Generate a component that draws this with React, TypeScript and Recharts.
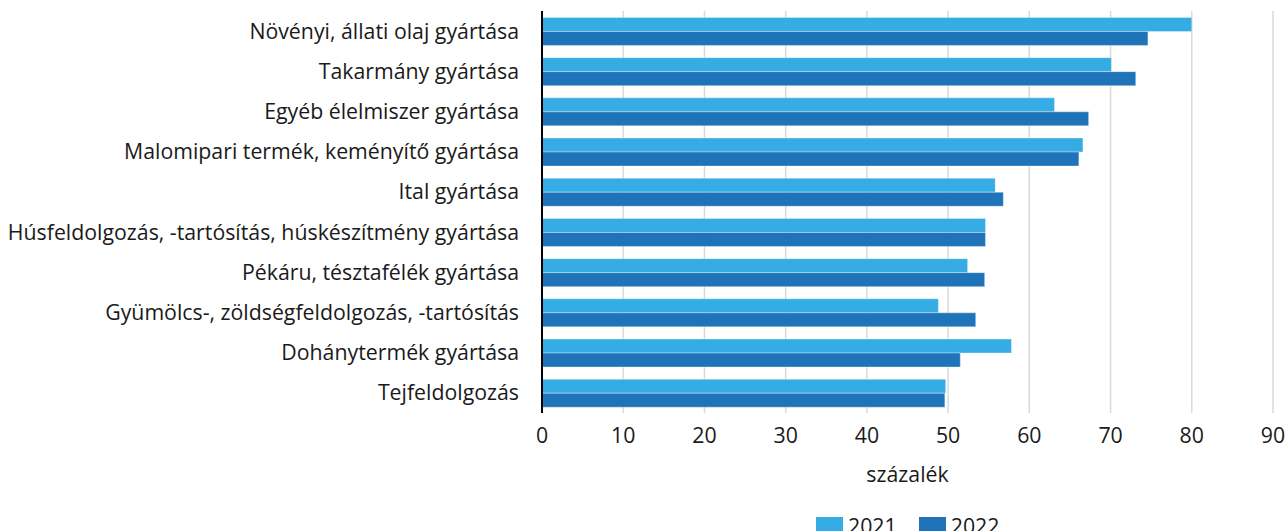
import React from 'react'
import { BarChart, Bar, XAxis, YAxis, CartesianGrid, Legend } from 'recharts'

const categories: string[] = [
  'Növényi, állati olaj gyártása',
  'Takarmány gyártása',
  'Egyéb élelmiszer gyártása',
  'Malomipari termék, keményítő gyártása',
  'Ital gyártása',
  'Húsfeldolgozás, -tartósítás, húskészítmény gyártása',
  'Pékáru, tésztafélék gyártása',
  'Gyümölcs-, zöldségfeldolgozás, -tartósítás',
  'Dohánytermék gyártása',
  'Tejfeldolgozás',
]
const values2021: number[] = [80.0, 70.1, 63.1, 66.6, 55.8, 54.6, 52.4, 48.8, 57.8, 49.7]
const values2022: number[] = [74.6, 73.1, 67.3, 66.1, 56.8, 54.6, 54.5, 53.4, 51.5, 49.6]
const xTicks: number[] = [0, 10, 20, 30, 40, 50, 60, 70, 80, 90]
const seriesNames: string[] = ['2021', '2022']

const color2021 = '#35ace3'
const color2022 = '#1f73b9'
const fontFamily = '"Open Sans", sans-serif'
const fontSize = 21.3

// the chart fills the whole window, so the 8px page margin is drawn as padding
document.body.style.margin = '0'

const data = categories.map((name, i) => ({
  name,
  y2021: values2021[i],
  y2022: values2022[i],
}))

const renderLegend = () => {
  const items = [
    { label: seriesNames[0], color: color2021 },
    { label: seriesNames[1], color: color2022 },
  ]
  return (
    <div
      style={{
        boxSizing: 'border-box',
        height: 56,
        paddingTop: 34,
        paddingLeft: 808,
        display: 'flex',
        alignItems: 'flex-start',
        fontFamily,
        fontSize,
        color: '#1a1a1a',
        lineHeight: '20px',
      }}
    >
      {items.map((it) => (
        <div key={it.label} style={{ display: 'flex', alignItems: 'flex-start', marginRight: 22 }}>
          <div style={{ width: 27, height: 22, background: it.color, marginRight: 5 }} />
          <span style={{ marginTop: -1 }}>{it.label}</span>
        </div>
      ))}
    </div>
  )
}

const App: React.FC = () => {
  return (
    <div
      style={{
        boxSizing: 'border-box',
        width: 1285,
        height: 531,
        padding: '8px 0 0 8px',
        overflow: 'hidden',
        background: '#fff',
      }}
    >
      <BarChart
        width={1277}
        height={531}
        data={data}
        layout="vertical"
        margin={{ top: 3, right: 12, bottom: 0, left: 0 }}
        barCategoryGap="16%"
        barGap={0}
      >
        <CartesianGrid horizontal={false} stroke="#d9d9d9" strokeWidth={1.5} />
        <XAxis
          type="number"
          domain={[0, 90]}
          ticks={xTicks}
          interval={0}
          axisLine={false}
          tickLine={false}
          tickSize={0}
          tickMargin={15}
          height={70}
          tick={{ fill: '#1a1a1a', fontSize, fontFamily }}
          label={{
            value: 'százalék',
            position: 'insideBottom',
            offset: 1,
            fill: '#1a1a1a',
            fontSize,
            fontFamily,
          }}
        />
        <YAxis
          type="category"
          dataKey="name"
          width={534}
          axisLine={{ stroke: '#000', strokeWidth: 2 }}
          tickLine={false}
          tickSize={0}
          tickMargin={23}
          interval={0}
          tick={{ fill: '#1a1a1a', fontSize, fontFamily }}
        />
        <Legend verticalAlign="bottom" content={renderLegend} />
        <Bar
          dataKey="y2021"
          name={seriesNames[0]}
          fill={color2021}
          stroke="rgba(255,255,255,0.35)"
          strokeWidth={1}
          isAnimationActive={false}
        />
        <Bar
          dataKey="y2022"
          name={seriesNames[1]}
          fill={color2022}
          stroke="rgba(255,255,255,0.35)"
          strokeWidth={1}
          isAnimationActive={false}
        />
      </BarChart>
    </div>
  )
}

export default App
